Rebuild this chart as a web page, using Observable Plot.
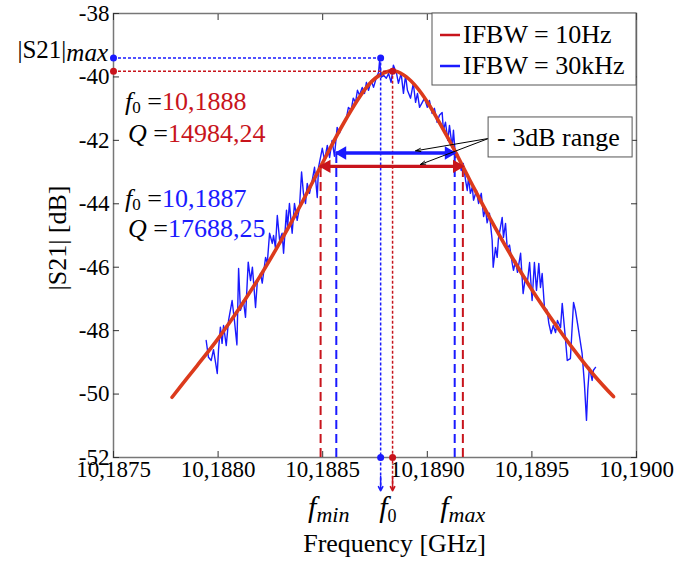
<!DOCTYPE html>
<html><head><meta charset="utf-8">
<script src="https://cdn.jsdelivr.net/npm/d3@7"></script>
<script src="https://cdn.jsdelivr.net/npm/@observablehq/plot@0.6"></script>
<style>body{margin:0;background:#fff;} svg{display:block;}</style>
</head><body><div id="chart"></div>
<script>
// ---------- data ----------
const xTicks = [10.1875, 10.1880, 10.1885, 10.1890, 10.1895, 10.1900];
const yTicks = [-52, -50, -48, -46, -44, -42, -40, -38];
const xDomain = [10.1875, 10.1900];
const yDomain = [-52, -38];

const seriesNames = ["IFBW = 10Hz", "IFBW = 30kHz"];
const f0Values = [10.188834, 10.188777];
const peakValues = [-39.82, -39.40];
const fminValues = [10.18849, 10.188565];
const fmaxValues = [10.18917, 10.189131];
const f0Labels = ["10,1888", "10,1887"];
const qLabels = ["14984,24", "17688,25"];

// IFBW = 10Hz (smooth, red)
const redFreq = [10.18778, 10.18785, 10.18790, 10.18800, 10.18810, 10.18820, 10.18830, 10.18840, 10.18850,
  10.18860, 10.18870, 10.18875, 10.18880, 10.18885, 10.18890, 10.18895, 10.18900, 10.18910, 10.18920,
  10.18930, 10.18940, 10.18950, 10.18960, 10.18970, 10.18980, 10.18989];
const redDb = [-50.10, -49.51, -49.10, -48.25, -47.31, -46.29, -45.17, -43.97, -42.70,
  -41.46, -40.41, -40.05, -39.85, -39.82, -40.00, -40.33, -40.79, -41.94, -43.21,
  -44.46, -45.63, -46.71, -47.69, -48.60, -49.43, -50.08];

// IFBW = 30kHz (noisy, blue)
const blueFreq = [10.187943, 10.187954, 10.187967, 10.187978, 10.187996, 10.188002, 10.188011, 10.188019, 10.188026, 10.188039,
  10.188050, 10.188067, 10.188078, 10.188090, 10.188098, 10.188107, 10.188121, 10.188131, 10.188144, 10.188155,
  10.188164, 10.188179, 10.188187, 10.188203, 10.188211, 10.188227, 10.188235, 10.188246, 10.188259, 10.188265,
  10.188274, 10.188283, 10.188294, 10.188306, 10.188313, 10.188327, 10.188332, 10.188341, 10.188354, 10.188365,
  10.188378, 10.188389, 10.188399, 10.188408, 10.188418, 10.188426, 10.188437, 10.188450, 10.188461, 10.188474,
  10.188480, 10.188498, 10.188509, 10.188522, 10.188533, 10.188545, 10.188556, 10.188569, 10.188580, 10.188593,
  10.188599, 10.188614, 10.188623, 10.188636, 10.188646, 10.188657, 10.188666, 10.188676, 10.188689, 10.188700,
  10.188709, 10.188719, 10.188732, 10.188743, 10.188757, 10.188767, 10.188772, 10.188780, 10.188791, 10.188804,
  10.188815, 10.188827, 10.188838, 10.188853, 10.188862, 10.188875, 10.188886, 10.188896, 10.188905, 10.188920,
  10.188933, 10.188944, 10.188953, 10.188963, 10.188976, 10.188987, 10.189000, 10.189010, 10.189023, 10.189034,
  10.189047, 10.189058, 10.189071, 10.189077, 10.189087, 10.189098, 10.189106, 10.189119, 10.189125, 10.189135,
  10.189144, 10.189154, 10.189162, 10.189172, 10.189183, 10.189191, 10.189197, 10.189206, 10.189215, 10.189221,
  10.189235, 10.189245, 10.189258, 10.189269, 10.189278, 10.189286, 10.189297, 10.189310, 10.189315, 10.189326,
  10.189334, 10.189340, 10.189358, 10.189364, 10.189374, 10.189382, 10.189393, 10.189406, 10.189412, 10.189422,
  10.189431, 10.189446, 10.189458, 10.189469, 10.189478, 10.189489, 10.189501, 10.189512, 10.189522, 10.189533,
  10.189541, 10.189549, 10.189560, 10.189573, 10.189581, 10.189592, 10.189602, 10.189613, 10.189622, 10.189637,
  10.189645, 10.189651, 10.189661, 10.189669, 10.189684, 10.189699, 10.189708, 10.189718, 10.189728, 10.189740,
  10.189751, 10.189761, 10.189767, 10.189775, 10.189788, 10.189794, 10.189804];
const blueDb = [-48.31, -48.84, -48.94, -48.60, -49.35, -48.60, -47.89, -48.40, -47.84, -48.47,
  -47.68, -47.05, -47.68, -48.45, -46.04, -47.36, -47.05, -47.58, -45.84, -46.42,
  -46.00, -47.27, -46.50, -46.20, -46.50, -45.69, -45.88, -44.93, -45.25, -45.00,
  -45.38, -44.37, -45.15, -44.93, -45.56, -44.20, -44.74, -43.99, -44.93, -43.99,
  -44.52, -44.11, -43.00, -43.67, -43.99, -43.36, -43.67, -43.26, -42.85, -43.80,
  -42.85, -42.25, -42.63, -42.16, -42.54, -42.00, -42.50, -41.59, -41.78, -41.53,
  -41.46, -41.27, -40.96, -41.05, -40.67, -40.80, -40.42, -40.58, -40.33, -40.52,
  -40.17, -40.42, -40.11, -40.33, -40.01, -39.86, -39.48, -40.01, -39.95, -40.04,
  -39.89, -40.17, -39.63, -39.89, -40.20, -39.89, -40.52, -39.95, -40.42, -40.67,
  -40.20, -40.80, -40.52, -40.96, -40.80, -40.67, -40.96, -40.74, -41.15, -40.99,
  -41.43, -41.21, -41.12, -41.68, -41.43, -42.00, -41.53, -42.22, -41.68, -42.54,
  -42.41, -42.63, -42.95, -42.73, -43.26, -43.58, -43.17, -43.67, -43.48, -43.89,
  -43.58, -43.99, -43.67, -44.40, -44.15, -44.60, -44.30, -45.15, -46.00, -45.38,
  -45.69, -45.10, -44.43, -45.06, -44.62, -45.41, -45.30, -45.88, -46.10, -45.79,
  -46.16, -45.56, -46.83, -46.32, -46.50, -45.85, -47.05, -45.85, -46.73, -45.88,
  -46.64, -46.20, -47.27, -47.36, -47.77, -48.09, -47.84, -48.06, -47.68, -47.90,
  -47.14, -47.58, -48.31, -48.94, -48.88, -47.11, -47.36, -47.77, -48.20, -48.72,
  -49.67, -50.83, -49.88, -49.16, -49.57, -49.25, -49.16];

// "- 3dB range" note: anchor point of the box and tips of its two leader lines
const noteFrom = [10.189293, -41.94];
const noteTargets = [[10.188944, -42.33], [10.188967, -42.76]];

// ---------- build ----------
const CURVE_RED = "#dc3a1c", DRED = "#c8141c", BLUE = "#1a1aff";
const colors = [DRED, BLUE];
const red = redFreq.map((f, i) => ({f, v: redDb[i]}));
const blue = blueFreq.map((f, i) => ({f, v: blueDb[i]}));
const series = seriesNames.map((name, i) => ({
  name, color: colors[i], f0: f0Values[i], peak: peakValues[i], lvl: peakValues[i] - 3,
  fmin: fminValues[i], fmax: fmaxValues[i], left: xDomain[0], bottom: yDomain[0]
}));
const leaders = noteTargets.map(t => ({x1: noteFrom[0], y1: noteFrom[1], x2: t[0], y2: t[1]}));
const fmtX = d => d.toFixed(4).replace(".", ",");
const FONT = "Liberation Serif, Times New Roman, serif";
const TK = 6;

const chart = Plot.plot({
  width: 693, height: 563,
  marginLeft: 113, marginRight: 57, marginTop: 13, marginBottom: 106,
  style: {fontFamily: FONT, fontSize: "23px", color: "#000", background: "#fff", overflow: "visible"},
  x: {domain: xDomain},
  y: {domain: yDomain},
  color: {type: "identity"},
  marks: [
    Plot.frame({stroke: "#777", strokeWidth: 1.5}),
    Plot.axisX(xTicks, {anchor: "bottom", tickSize: 0, tickPadding: 3, tickFormat: fmtX, label: null, fontSize: 23}),
    Plot.axisY(yTicks, {anchor: "left", tickSize: 0, tickPadding: 4, tickFormat: d => String(d), label: null, fontSize: 23}),
    // inward tick marks (outward ticks shifted inside the frame)
    Plot.axisX(xTicks, {anchor: "bottom", tickSize: TK, dy: -TK, tickFormat: () => "", label: null, stroke: "#333"}),
    Plot.axisX(xTicks, {anchor: "top", tickSize: TK, dy: TK, tickFormat: () => "", label: null, stroke: "#333"}),
    Plot.axisY(yTicks, {anchor: "left", tickSize: TK, dx: TK, tickFormat: () => "", label: null, stroke: "#333"}),
    Plot.axisY(yTicks, {anchor: "right", tickSize: TK, dx: -TK, tickFormat: () => "", label: null, stroke: "#333"}),

    // fmin / fmax long dashed verticals
    Plot.ruleX(series, {x: "fmin", y1: "bottom", y2: "lvl", stroke: "color", strokeWidth: 2, strokeDasharray: "9,5"}),
    Plot.ruleX(series, {x: "fmax", y1: "bottom", y2: "lvl", stroke: "color", strokeWidth: 2, strokeDasharray: "9,5"}),

    // curves
    Plot.line(blue, {x: "f", y: "v", stroke: BLUE, strokeWidth: 1.4}),
    Plot.line(red, {x: "f", y: "v", stroke: CURVE_RED, strokeWidth: 3.6, curve: "catmull-rom"}),

    // |S21|max dotted lines and f0 verticals
    Plot.ruleY(series, {y: "peak", x1: "left", x2: "f0", stroke: "color", strokeWidth: 1.5, strokeDasharray: "3,2"}),
    Plot.ruleX(series, {x: "f0", y1: "peak", y2: -52.98, stroke: "color", strokeWidth: 1.5, strokeDasharray: "3,2"}),
    Plot.arrow(series, {x: "f0", y1: -52.6, y2: -53.05, stroke: "color", strokeWidth: 1.5, headLength: 10, headAngle: 55}),
    Plot.dot(series, {x: "left", y: "peak", fill: "color", r: 3.5}),
    Plot.dot(series, {x: "f0", y: "peak", fill: "color", r: 3.5}),
    Plot.dot(series, {x: "f0", y: "bottom", fill: "color", r: 3.5}),

    // -3 dB double arrows
    Plot.ruleY(series, {y: "lvl", x1: "fmin", x2: "fmax", stroke: "color", strokeWidth: 3.4}),
    Plot.dot(series, {x: "fmin", y: "lvl", fill: "color", symbol: "triangle", rotate: -90, r: 5, dx: 6}),
    Plot.dot(series, {x: "fmax", y: "lvl", fill: "color", symbol: "triangle", rotate: 90, r: 5, dx: -6}),

    // leader lines of the note
    Plot.arrow(leaders, {x1: "x1", y1: "y1", x2: "x2", y2: "y2", stroke: "#000", strokeWidth: 1, headLength: 8, headAngle: 35})
  ]
});

document.getElementById("chart").appendChild(chart);

// ---------- annotations (positioned through the plot's scales) ----------
const sx = chart.scale("x"), sy = chart.scale("y");
const L = sx.apply(xDomain[0]), R = sx.apply(xDomain[1]);
const T = sy.apply(yDomain[1]), B = sy.apply(yDomain[0]);
const svg = d3.select(chart);
const g = svg.append("g").attr("font-family", FONT).attr("fill", "#000").attr("text-anchor", "start");

function rich(x, y, parts, anchor = "start", size = 26) {
  const t = g.append("text").attr("x", x).attr("y", y).attr("font-size", size).attr("text-anchor", anchor);
  for (const p of parts) {
    const s = t.append("tspan").text(p.t);
    if (p.italic) s.attr("font-style", "italic");
    if (p.size) s.attr("font-size", p.size);
    if (p.dy) s.attr("dy", p.dy);
    if (p.fill) s.attr("fill", p.fill);
  }
  return t;
}

// |S21|max
rich(L - 5, sy.apply(peakValues[1]) + 1, [{t: "|S21|"}, {t: "max", italic: true, dy: 3}], "end", 25);

// f0 / Q blocks
const blocks = [[T + 97, T + 129], [T + 194, T + 224]];
series.forEach((s, i) => {
  const [b1, b2] = blocks[i];
  rich(L + 12, b1, [{t: "f", italic: true}, {t: "0", size: 17, dy: 3}, {t: " =", dy: -3}, {t: f0Labels[i], fill: s.color}]);
  rich(L + 15, b2, [{t: "Q", italic: true}, {t: " ="}, {t: qLabels[i], fill: s.color}]);
});

// f_min, f_0, f_max under the axis
rich(sx.apply(fminValues[0]) - 12, B + 60, [{t: "f", italic: true, size: 30}, {t: "min", italic: true, size: 22, dy: 5}]);
rich(sx.apply(f0Values[1]) - 1, B + 60, [{t: "f", italic: true, size: 30}, {t: "0", size: 18, dy: 5}]);
rich(sx.apply(fmaxValues[1]) - 14, B + 60, [{t: "f", italic: true, size: 30}, {t: "max", italic: true, size: 22, dy: 5}]);

// axis titles
g.append("text").attr("x", (L + R) / 2 + 20).attr("y", 552).attr("text-anchor", "middle")
  .attr("font-size", 26).text("Frequency [GHz]");
g.append("text").attr("transform", `translate(66,${(T + B) / 2 + 3}) rotate(-90)`).attr("text-anchor", "middle")
  .attr("font-size", 26).text("|S21| [dB]");

// legend
const lw = 204, lh = 72;
g.append("rect").attr("x", R - lw).attr("y", T).attr("width", lw).attr("height", lh)
  .attr("fill", "#fff").attr("stroke", "#555").attr("stroke-width", 1);
series.forEach((s, i) => {
  const yy = T + 22 + i * 31;
  g.append("line").attr("x1", R - lw + 8).attr("x2", R - lw + 28).attr("y1", yy).attr("y2", yy)
    .attr("stroke", s.color).attr("stroke-width", 2.5);
  g.append("text").attr("x", R - lw + 31).attr("y", yy + 8).attr("font-size", 26).attr("text-anchor", "start").text(s.name);
});

// "- 3dB range" note box
const nx = sx.apply(noteFrom[0]), ny = sy.apply(noteFrom[1]);
g.append("rect").attr("x", nx).attr("y", ny - 21).attr("width", 144).attr("height", 40)
  .attr("fill", "#fff").attr("stroke", "#555").attr("stroke-width", 1);
g.append("text").attr("x", nx + 9).attr("y", ny + 8).attr("font-size", 26).attr("text-anchor", "start").text("- 3dB range");
</script>
</body></html>
